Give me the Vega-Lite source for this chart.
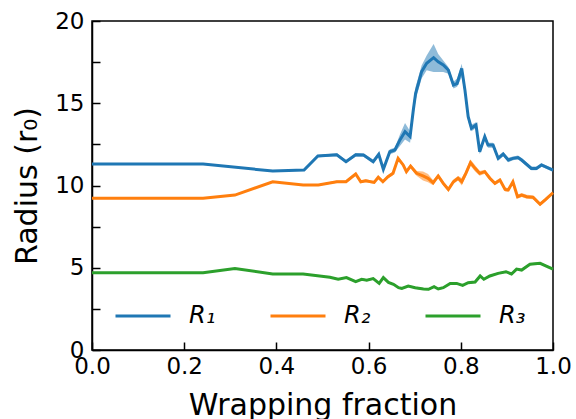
{
  "$schema": "https://vega.github.io/schema/vega-lite/v6.json",
  "width": 461,
  "height": 329,
  "autosize": {"type": "none"},
  "padding": {"left": 92, "top": 21, "right": 23, "bottom": 69},
  "background": "white",
  "config": {
    "font": "DejaVu Sans",
    "view": {"stroke": "black", "strokeWidth": 1.5},
    "axis": {"domainColor": "black", "domainWidth": 1.5, "tickColor": "black", "tickWidth": 1.5, "labelColor": "black", "titleColor": "black", "labelFont": "DejaVu Sans", "titleFont": "DejaVu Sans", "labelFontSize": 23, "titleFontSize": 30, "titleFontWeight": "normal", "grid": false, "labelFlush": false, "ticks": true},
    "legend": {"orient": "bottom-left", "offset": 22, "direction": "horizontal", "symbolType": "stroke", "symbolSize": 3025, "symbolStrokeWidth": 3, "symbolOpacity": 1, "labelFontSize": 24, "labelFontStyle": "italic", "labelFont": "DejaVu Sans", "labelColor": "black", "labelOffset": 17, "columnPadding": 48, "padding": 0}
  },
  "data": {"values": [
    {"x": 0, "s": "R₁", "r": 11.3, "lo": 11.3, "hi": 11.3},
    {"x": 0.241, "s": "R₁", "r": 11.3, "lo": 11.3, "hi": 11.3},
    {"x": 0.392, "s": "R₁", "r": 10.88, "lo": 10.88, "hi": 10.88},
    {"x": 0.46, "s": "R₁", "r": 10.94, "lo": 10.9, "hi": 10.98},
    {"x": 0.49, "s": "R₁", "r": 11.79, "lo": 11.72, "hi": 11.86},
    {"x": 0.531, "s": "R₁", "r": 11.87, "lo": 11.78, "hi": 11.96},
    {"x": 0.551, "s": "R₁", "r": 11.45, "lo": 11.35, "hi": 11.55},
    {"x": 0.572, "s": "R₁", "r": 11.87, "lo": 11.77, "hi": 11.97},
    {"x": 0.589, "s": "R₁", "r": 11.85, "lo": 11.75, "hi": 11.95},
    {"x": 0.61, "s": "R₁", "r": 11.45, "lo": 11.33, "hi": 11.57},
    {"x": 0.622, "s": "R₁", "r": 11.9, "lo": 11.78, "hi": 12.02},
    {"x": 0.632, "s": "R₁", "r": 10.98, "lo": 10.85, "hi": 11.1},
    {"x": 0.646, "s": "R₁", "r": 12.05, "lo": 11.9, "hi": 12.2},
    {"x": 0.657, "s": "R₁", "r": 12.16, "lo": 12.0, "hi": 12.3},
    {"x": 0.668, "s": "R₁", "r": 12.77, "lo": 12.4, "hi": 13.1},
    {"x": 0.679, "s": "R₁", "r": 13.27, "lo": 12.8, "hi": 13.8},
    {"x": 0.69, "s": "R₁", "r": 12.97, "lo": 12.6, "hi": 13.3},
    {"x": 0.697, "s": "R₁", "r": 14.59, "lo": 14.2, "hi": 15.0},
    {"x": 0.702, "s": "R₁", "r": 15.6, "lo": 15.2, "hi": 16.0},
    {"x": 0.708, "s": "R₁", "r": 16.2, "lo": 15.8, "hi": 16.6},
    {"x": 0.715, "s": "R₁", "r": 16.92, "lo": 16.5, "hi": 17.3},
    {"x": 0.726, "s": "R₁", "r": 17.43, "lo": 17.0, "hi": 17.9},
    {"x": 0.741, "s": "R₁", "r": 17.77, "lo": 16.9, "hi": 18.6},
    {"x": 0.751, "s": "R₁", "r": 17.52, "lo": 16.9, "hi": 18.0},
    {"x": 0.762, "s": "R₁", "r": 17.33, "lo": 16.9, "hi": 17.6},
    {"x": 0.773, "s": "R₁", "r": 17.02, "lo": 16.8, "hi": 17.2},
    {"x": 0.784, "s": "R₁", "r": 16.11, "lo": 15.9, "hi": 16.3},
    {"x": 0.792, "s": "R₁", "r": 16.2, "lo": 16.0, "hi": 16.5},
    {"x": 0.802, "s": "R₁", "r": 17.12, "lo": 16.6, "hi": 17.4},
    {"x": 0.809, "s": "R₁", "r": 15.8, "lo": 15.5, "hi": 16.1},
    {"x": 0.816, "s": "R₁", "r": 14.18, "lo": 13.9, "hi": 14.4},
    {"x": 0.823, "s": "R₁", "r": 13.48, "lo": 13.3, "hi": 13.7},
    {"x": 0.833, "s": "R₁", "r": 13.68, "lo": 13.5, "hi": 13.85},
    {"x": 0.841, "s": "R₁", "r": 12.05, "lo": 11.9, "hi": 12.2},
    {"x": 0.852, "s": "R₁", "r": 12.97, "lo": 12.8, "hi": 13.15},
    {"x": 0.859, "s": "R₁", "r": 12.46, "lo": 12.3, "hi": 12.6},
    {"x": 0.87, "s": "R₁", "r": 12.46, "lo": 12.3, "hi": 12.6},
    {"x": 0.881, "s": "R₁", "r": 11.65, "lo": 11.5, "hi": 11.8},
    {"x": 0.892, "s": "R₁", "r": 11.91, "lo": 11.78, "hi": 12.05},
    {"x": 0.903, "s": "R₁", "r": 11.55, "lo": 11.42, "hi": 11.68},
    {"x": 0.913, "s": "R₁", "r": 11.65, "lo": 11.53, "hi": 11.77},
    {"x": 0.924, "s": "R₁", "r": 11.7, "lo": 11.58, "hi": 11.82},
    {"x": 0.932, "s": "R₁", "r": 11.55, "lo": 11.43, "hi": 11.67},
    {"x": 0.953, "s": "R₁", "r": 11.04, "lo": 10.93, "hi": 11.15},
    {"x": 0.964, "s": "R₁", "r": 11.04, "lo": 10.93, "hi": 11.15},
    {"x": 0.975, "s": "R₁", "r": 11.25, "lo": 11.14, "hi": 11.36},
    {"x": 1.0, "s": "R₁", "r": 10.94, "lo": 10.84, "hi": 11.04},

    {"x": 0, "s": "R₂", "r": 9.22, "lo": 9.22, "hi": 9.22},
    {"x": 0.241, "s": "R₂", "r": 9.22, "lo": 9.22, "hi": 9.22},
    {"x": 0.31, "s": "R₂", "r": 9.42, "lo": 9.42, "hi": 9.42},
    {"x": 0.392, "s": "R₂", "r": 10.23, "lo": 10.23, "hi": 10.23},
    {"x": 0.458, "s": "R₂", "r": 10.03, "lo": 10.0, "hi": 10.06},
    {"x": 0.491, "s": "R₂", "r": 10.03, "lo": 9.98, "hi": 10.08},
    {"x": 0.531, "s": "R₂", "r": 10.23, "lo": 10.16, "hi": 10.3},
    {"x": 0.551, "s": "R₂", "r": 10.23, "lo": 10.15, "hi": 10.31},
    {"x": 0.572, "s": "R₂", "r": 10.7, "lo": 10.62, "hi": 10.78},
    {"x": 0.583, "s": "R₂", "r": 10.23, "lo": 10.15, "hi": 10.31},
    {"x": 0.594, "s": "R₂", "r": 10.29, "lo": 10.2, "hi": 10.38},
    {"x": 0.612, "s": "R₂", "r": 10.19, "lo": 10.1, "hi": 10.28},
    {"x": 0.621, "s": "R₂", "r": 10.5, "lo": 10.4, "hi": 10.6},
    {"x": 0.631, "s": "R₂", "r": 10.23, "lo": 10.13, "hi": 10.33},
    {"x": 0.642, "s": "R₂", "r": 10.53, "lo": 10.43, "hi": 10.63},
    {"x": 0.653, "s": "R₂", "r": 10.74, "lo": 10.63, "hi": 10.85},
    {"x": 0.664, "s": "R₂", "r": 11.65, "lo": 11.53, "hi": 11.77},
    {"x": 0.675, "s": "R₂", "r": 11.25, "lo": 11.13, "hi": 11.37},
    {"x": 0.682, "s": "R₂", "r": 10.84, "lo": 10.72, "hi": 10.96},
    {"x": 0.691, "s": "R₂", "r": 11.18, "lo": 11.06, "hi": 11.3},
    {"x": 0.704, "s": "R₂", "r": 10.74, "lo": 10.6, "hi": 10.88},
    {"x": 0.718, "s": "R₂", "r": 10.58, "lo": 10.3, "hi": 10.85},
    {"x": 0.729, "s": "R₂", "r": 10.44, "lo": 10.2, "hi": 10.7},
    {"x": 0.74, "s": "R₂", "r": 10.17, "lo": 10.02, "hi": 10.32},
    {"x": 0.751, "s": "R₂", "r": 10.58, "lo": 10.45, "hi": 10.71},
    {"x": 0.762, "s": "R₂", "r": 10.13, "lo": 10.0, "hi": 10.26},
    {"x": 0.773, "s": "R₂", "r": 9.76, "lo": 9.64, "hi": 9.88},
    {"x": 0.784, "s": "R₂", "r": 10.23, "lo": 10.1, "hi": 10.36},
    {"x": 0.794, "s": "R₂", "r": 10.44, "lo": 10.3, "hi": 10.58},
    {"x": 0.802, "s": "R₂", "r": 10.23, "lo": 10.0, "hi": 10.45},
    {"x": 0.811, "s": "R₂", "r": 10.74, "lo": 10.55, "hi": 10.93},
    {"x": 0.821, "s": "R₂", "r": 11.39, "lo": 11.2, "hi": 11.58},
    {"x": 0.831, "s": "R₂", "r": 11.04, "lo": 10.85, "hi": 11.23},
    {"x": 0.841, "s": "R₂", "r": 10.74, "lo": 10.6, "hi": 10.88},
    {"x": 0.852, "s": "R₂", "r": 10.84, "lo": 10.72, "hi": 10.96},
    {"x": 0.863, "s": "R₂", "r": 10.44, "lo": 10.32, "hi": 10.56},
    {"x": 0.874, "s": "R₂", "r": 10.13, "lo": 10.01, "hi": 10.25},
    {"x": 0.885, "s": "R₂", "r": 10.33, "lo": 10.21, "hi": 10.45},
    {"x": 0.896, "s": "R₂", "r": 9.76, "lo": 9.64, "hi": 9.88},
    {"x": 0.903, "s": "R₂", "r": 9.73, "lo": 9.61, "hi": 9.85},
    {"x": 0.913, "s": "R₂", "r": 10.23, "lo": 10.11, "hi": 10.35},
    {"x": 0.923, "s": "R₂", "r": 9.32, "lo": 9.2, "hi": 9.44},
    {"x": 0.932, "s": "R₂", "r": 9.42, "lo": 9.3, "hi": 9.54},
    {"x": 0.943, "s": "R₂", "r": 9.32, "lo": 9.2, "hi": 9.44},
    {"x": 0.957, "s": "R₂", "r": 9.28, "lo": 9.16, "hi": 9.4},
    {"x": 0.972, "s": "R₂", "r": 8.86, "lo": 8.75, "hi": 8.97},
    {"x": 0.983, "s": "R₂", "r": 9.12, "lo": 9.01, "hi": 9.23},
    {"x": 1.0, "s": "R₂", "r": 9.56, "lo": 9.45, "hi": 9.67},

    {"x": 0, "s": "R₃", "r": 4.7, "lo": 4.7, "hi": 4.7},
    {"x": 0.241, "s": "R₃", "r": 4.7, "lo": 4.7, "hi": 4.7},
    {"x": 0.31, "s": "R₃", "r": 4.96, "lo": 4.96, "hi": 4.96},
    {"x": 0.392, "s": "R₃", "r": 4.62, "lo": 4.62, "hi": 4.62},
    {"x": 0.458, "s": "R₃", "r": 4.62, "lo": 4.6, "hi": 4.64},
    {"x": 0.516, "s": "R₃", "r": 4.42, "lo": 4.38, "hi": 4.46},
    {"x": 0.534, "s": "R₃", "r": 4.3, "lo": 4.25, "hi": 4.35},
    {"x": 0.552, "s": "R₃", "r": 4.4, "lo": 4.35, "hi": 4.45},
    {"x": 0.572, "s": "R₃", "r": 4.15, "lo": 4.1, "hi": 4.2},
    {"x": 0.585, "s": "R₃", "r": 4.3, "lo": 4.24, "hi": 4.36},
    {"x": 0.596, "s": "R₃", "r": 4.24, "lo": 4.18, "hi": 4.3},
    {"x": 0.61, "s": "R₃", "r": 4.34, "lo": 4.28, "hi": 4.4},
    {"x": 0.623, "s": "R₃", "r": 4.05, "lo": 3.99, "hi": 4.11},
    {"x": 0.632, "s": "R₃", "r": 4.4, "lo": 4.34, "hi": 4.46},
    {"x": 0.643, "s": "R₃", "r": 4.11, "lo": 4.05, "hi": 4.17},
    {"x": 0.654, "s": "R₃", "r": 3.99, "lo": 3.93, "hi": 4.05},
    {"x": 0.665, "s": "R₃", "r": 3.79, "lo": 3.73, "hi": 3.85},
    {"x": 0.672, "s": "R₃", "r": 3.74, "lo": 3.68, "hi": 3.8},
    {"x": 0.686, "s": "R₃", "r": 3.89, "lo": 3.83, "hi": 3.95},
    {"x": 0.701, "s": "R₃", "r": 3.79, "lo": 3.73, "hi": 3.85},
    {"x": 0.719, "s": "R₃", "r": 3.71, "lo": 3.65, "hi": 3.77},
    {"x": 0.73, "s": "R₃", "r": 3.69, "lo": 3.63, "hi": 3.75},
    {"x": 0.742, "s": "R₃", "r": 3.85, "lo": 3.79, "hi": 3.91},
    {"x": 0.751, "s": "R₃", "r": 3.71, "lo": 3.65, "hi": 3.77},
    {"x": 0.762, "s": "R₃", "r": 3.79, "lo": 3.73, "hi": 3.85},
    {"x": 0.777, "s": "R₃", "r": 4.05, "lo": 3.99, "hi": 4.11},
    {"x": 0.791, "s": "R₃", "r": 4.05, "lo": 3.99, "hi": 4.11},
    {"x": 0.804, "s": "R₃", "r": 3.93, "lo": 3.87, "hi": 3.99},
    {"x": 0.816, "s": "R₃", "r": 4.09, "lo": 4.03, "hi": 4.15},
    {"x": 0.831, "s": "R₃", "r": 4.13, "lo": 4.07, "hi": 4.19},
    {"x": 0.842, "s": "R₃", "r": 4.5, "lo": 4.44, "hi": 4.56},
    {"x": 0.85, "s": "R₃", "r": 4.3, "lo": 4.24, "hi": 4.36},
    {"x": 0.863, "s": "R₃", "r": 4.5, "lo": 4.44, "hi": 4.56},
    {"x": 0.881, "s": "R₃", "r": 4.66, "lo": 4.6, "hi": 4.72},
    {"x": 0.898, "s": "R₃", "r": 4.76, "lo": 4.7, "hi": 4.82},
    {"x": 0.91, "s": "R₃", "r": 4.62, "lo": 4.56, "hi": 4.68},
    {"x": 0.921, "s": "R₃", "r": 4.92, "lo": 4.86, "hi": 4.98},
    {"x": 0.932, "s": "R₃", "r": 4.86, "lo": 4.8, "hi": 4.92},
    {"x": 0.95, "s": "R₃", "r": 5.21, "lo": 5.15, "hi": 5.27},
    {"x": 0.972, "s": "R₃", "r": 5.27, "lo": 5.21, "hi": 5.33},
    {"x": 1.0, "s": "R₃", "r": 4.92, "lo": 4.86, "hi": 4.98}
  ]},
  "layer": [
    {
      "mark": {"type": "line", "strokeWidth": 3},
      "encoding": {
        "x": {"field": "x", "type": "quantitative", "scale": {"domain": [0, 1], "nice": false},
          "axis": {"title": "Wrapping fraction", "values": [0, 0.2, 0.4, 0.6, 0.8, 1.0], "format": ".1f", "tickSize": -8, "labelPadding": 13, "titlePadding": 12}},
        "y": {"field": "r", "type": "quantitative", "scale": {"domain": [0, 20], "nice": false},
          "axis": {"title": "Radius (r₀)", "values": [0, 2.5, 5, 7.5, 10, 12.5, 15, 17.5, 20], "labelExpr": "datum.value % 5 == 0 ? format(datum.value, 'd') : ''", "tickSize": -8, "labelPadding": 16, "titlePadding": 12}},
        "color": {"field": "s", "type": "nominal", "title": null, "scale": {"range": ["#1f77b4", "#ff7f0e", "#2ca02c"]},
          "legend": {"title": null}}
      }
    },
    {
      "mark": {"type": "area", "opacity": 0.5},
      "encoding": {
        "x": {"field": "x", "type": "quantitative"},
        "y": {"field": "lo", "type": "quantitative"},
        "y2": {"field": "hi"},
        "color": {"field": "s", "type": "nominal", "title": null}
      }
    }
  ]
}
